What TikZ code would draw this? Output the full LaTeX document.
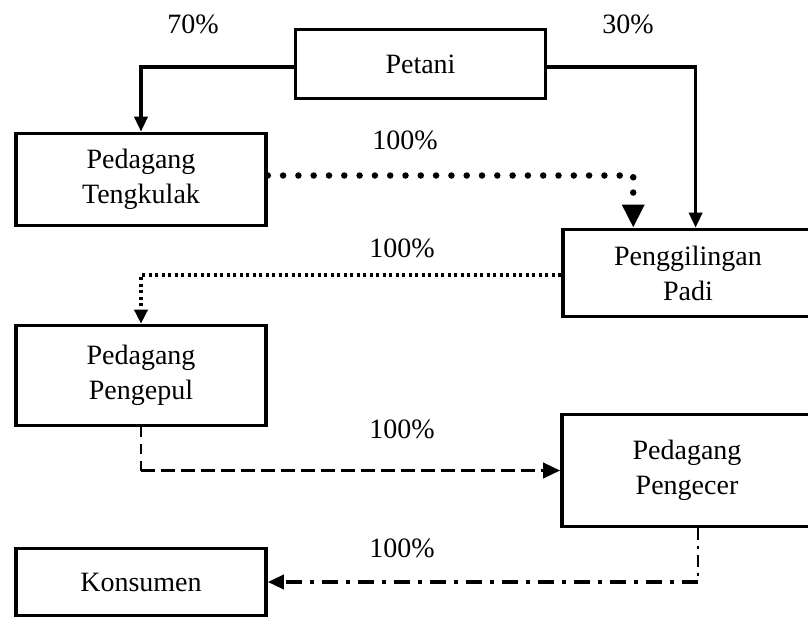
\documentclass[tikz,border=0pt]{standalone}
\usepackage{fontspec}
\setmainfont{Liberation Serif}
\usetikzlibrary{calc,arrows.meta}

\begin{document}
\begin{tikzpicture}[x=1pt,y=-1pt,
  box/.style={draw,line width=3.6pt,minimum width=250pt,inner sep=0pt,align=center,font=\fontsize{28}{35}\selectfont},
  pct/.style={font=\fontsize{28}{35}\selectfont},
  flow/.style={line width=3.5pt,-{Triangle[length=15pt,width=13pt]}}]
  \useasboundingbox (0,0) rectangle (808,618);
  \clip (0,0) rectangle (808,618);
  % Boxes of the marketing chain
  \node[box,minimum height=69pt] (petani) at (420.5,64) {Petani};
  \node[box,minimum height=92pt] (tengkulak) at (141,179.5) {Pedagang\\Tengkulak};
  \node[box,minimum height=87pt] (giling) at (688,273) {Penggilingan\\Padi};
  \node[box,minimum height=100pt] (pengepul) at (141,375.5) {Pedagang\\Pengepul};
  \node[box,minimum height=112pt] (pengecer) at (687,470.5) {Pedagang\\Pengecer};
  \node[box,minimum height=67pt] (konsumen) at (141,582) {Konsumen};
  % Shares
  \node[pct] (p70) at (193,24) {70\%};
  \node[pct] (p30) at (628,24) {30\%};
  \node[pct] (pa) at (405,140) {100\%};
  \node[pct] (pb) at (402,248) {100\%};
  \node[pct] (pc) at (402,429) {100\%};
  \node[pct] (pd) at (402,548) {100\%};
  % Connectors
  \coordinate (gilA) at ($(giling.north west)!0.284!(giling.north east)$);
  \coordinate (gilB) at ($(giling.north west)!0.53!(giling.north east)$);
  \draw[flow,line join=miter] ([yshift=-3pt]petani.west) -| (tengkulak.north);
  \draw[flow,line join=miter] ([yshift=-3pt]petani.east) -| (gilB);
  \draw[line width=6.5pt,line cap=round,dash pattern=on 0pt off 15.3pt,-{Triangle[length=23pt,width=21pt]}]
    ([yshift=4pt]tengkulak.east) -| (gilA);
  \draw[flow,dash pattern=on 3pt off 3.5pt,-{Triangle[length=14pt,width=13pt]}]
    ([yshift=-2pt]giling.west) -| (pengepul.north);
  \coordinate (bend1) at (pengepul.south |- pengecer.west);
  \draw[line width=2pt,dash pattern=on 10pt off 7pt] (pengepul.south) -- (bend1);
  \draw[flow,dash pattern=on 14pt off 6pt,-{Triangle[length=17pt,width=15pt]}] (bend1) -- (pengecer.west);
  \coordinate (kecer) at ($(pengecer.south)+(11,0)$);
  \coordinate (bend2) at (kecer |- konsumen.east);
  \draw[line width=1.5pt,dash pattern=on 12pt off 6pt on 3pt off 6pt] (kecer) -- (bend2);
  \draw[flow,dash pattern=on 16pt off 8pt on 4pt off 8pt,-{Triangle[length=16pt,width=14pt]}] (bend2) -- (konsumen.east);
\end{tikzpicture}
\end{document}
